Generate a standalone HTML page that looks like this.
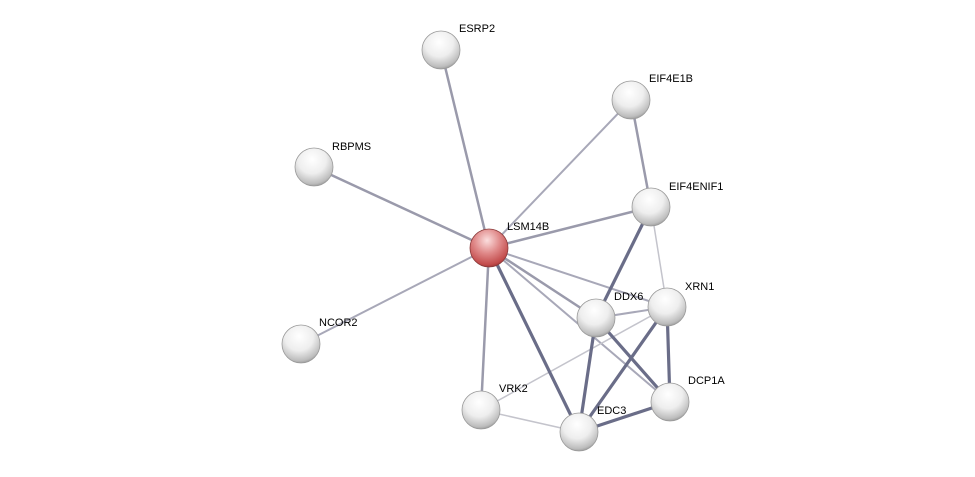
<!DOCTYPE html>
<html><head><meta charset="utf-8"><style>
body{margin:0;background:#fff;}
svg{display:block}
text{font-family:"Liberation Sans",sans-serif;font-size:11px;fill:#000;}
</style></head><body>
<svg width="975" height="477" viewBox="0 0 975 477" xmlns="http://www.w3.org/2000/svg">
<defs>
<radialGradient id="g" cx="0.45" cy="0.3" r="0.75">
<stop offset="0" stop-color="#ffffff"/><stop offset="0.5" stop-color="#eeeeee"/><stop offset="0.85" stop-color="#bdbdbd"/><stop offset="1" stop-color="#8a8a8a"/>
</radialGradient>
<radialGradient id="r" cx="0.45" cy="0.3" r="0.75">
<stop offset="0" stop-color="#fbdede"/><stop offset="0.45" stop-color="#e08a8a"/><stop offset="0.85" stop-color="#c24b4b"/><stop offset="1" stop-color="#8a2a2a"/>
</radialGradient>
</defs>
<g stroke-linecap="round">
<g stroke="#9a9aab" stroke-width="2.5">
<line x1="489" y1="248" x2="441" y2="50"/>
<line x1="489" y1="248" x2="314" y2="167"/>
<line x1="489" y1="248" x2="651" y2="207"/>
<line x1="489" y1="248" x2="481" y2="410"/>
<line x1="489" y1="248" x2="596" y2="318"/>
<line x1="631" y1="100" x2="651" y2="207"/>
</g>
<g stroke="#a8a8b8" stroke-width="2">
<line x1="489" y1="248" x2="301" y2="344"/>
<line x1="489" y1="248" x2="631" y2="100"/>
<line x1="489" y1="248" x2="670" y2="402"/>
<line x1="489" y1="248" x2="667" y2="307"/>
<line x1="596" y1="318" x2="667" y2="307"/>
</g>
<g stroke="#c4c4cc" stroke-width="1.5">
<line x1="651" y1="207" x2="667" y2="307"/>
<line x1="481" y1="410" x2="667" y2="307"/>
<line x1="481" y1="410" x2="579" y2="432"/>
</g>
<g stroke="#6a6d88" stroke-width="3.2">
<line x1="489" y1="248" x2="579" y2="432"/>
<line x1="651" y1="207" x2="596" y2="318"/>
<line x1="596" y1="318" x2="579" y2="432"/>
<line x1="596" y1="318" x2="670" y2="402"/>
<line x1="667" y1="307" x2="670" y2="402"/>
<line x1="667" y1="307" x2="579" y2="432"/>
<line x1="579" y1="432" x2="670" y2="402"/>
</g>
</g>
<g stroke="#9a9a9a" stroke-width="0.8">
<circle cx="441" cy="50" r="19" fill="url(#g)"/>
<circle cx="631" cy="100" r="19" fill="url(#g)"/>
<circle cx="314" cy="167" r="19" fill="url(#g)"/>
<circle cx="651" cy="207" r="19" fill="url(#g)"/>
<circle cx="489" cy="248" r="19" fill="url(#r)" stroke="#8a3a3a"/>
<circle cx="667" cy="307" r="19" fill="url(#g)"/>
<circle cx="596" cy="318" r="19" fill="url(#g)"/>
<circle cx="301" cy="344" r="19" fill="url(#g)"/>
<circle cx="670" cy="402" r="19" fill="url(#g)"/>
<circle cx="481" cy="410" r="19" fill="url(#g)"/>
<circle cx="579" cy="432" r="19" fill="url(#g)"/>
</g>
<g>
<text x="459" y="32">ESRP2</text>
<text x="649" y="82">EIF4E1B</text>
<text x="332" y="150">RBPMS</text>
<text x="669" y="190">EIF4ENIF1</text>
<text x="507" y="230">LSM14B</text>
<text x="685" y="290">XRN1</text>
<text x="614" y="300">DDX6</text>
<text x="319" y="326">NCOR2</text>
<text x="688" y="384">DCP1A</text>
<text x="499" y="392">VRK2</text>
<text x="597" y="414">EDC3</text>
</g>
</svg>
</body></html>
